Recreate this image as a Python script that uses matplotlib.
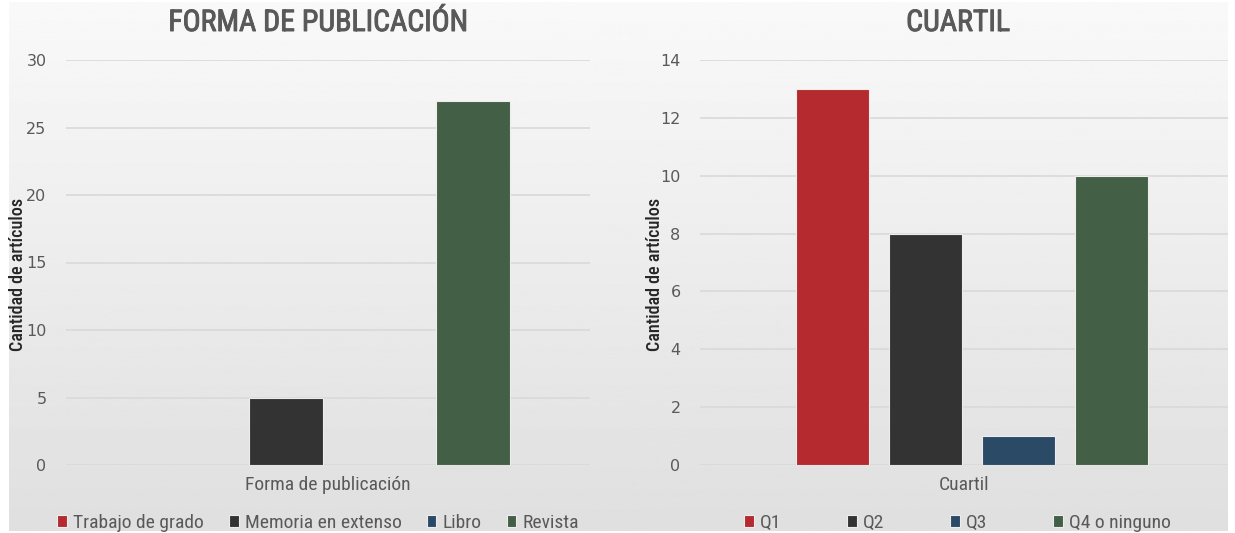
import matplotlib
matplotlib.use('Agg')
import matplotlib.pyplot as plt
import matplotlib.patheffects as pe
import numpy as np

plt.rcParams['font.family'] = ['Roboto Condensed', 'Roboto', 'DejaVu Sans']

# Forma de publicación
forma_labels = ['Trabajo de grado', 'Memoria en extenso', 'Libro', 'Revista']
forma_values = [0, 5, 0, 27]

# Cuartil
cuartil_labels = ['Q1', 'Q2', 'Q3', 'Q4 o ninguno']
cuartil_values = [13, 8, 1, 10]

colors = ['#B52A2F', '#333333', '#2A4A66', '#435F45']
TEXT = '#595959'
GRID = '#D9D9D9'

W, H = 1235, 533
fig = plt.figure(figsize=(W / 100, H / 100), dpi=100)
fig.patch.set_facecolor('white')

# gradient background behind both charts
bg = fig.add_axes([9 / W, 2 / H, (1228 - 9) / W, (531 - 2) / H])
grad = np.linspace(0.976, 0.875, 256).reshape(-1, 1)
bg.imshow(grad, cmap='gray', vmin=0, vmax=1, aspect='auto', extent=[0, 1, 0, 1])
bg.axis('off')
bg.set_zorder(0)


def draw_panel(rect, labels, values, ymax, ystep, title, xlabel, xlim,
               title_x, ylabel_x, legend_x, colspacing):
    ax = fig.add_axes(rect)
    ax.set_zorder(1)
    ax.patch.set_alpha(0)
    x = np.arange(len(values))
    bars = ax.bar(x, values, width=0.785, color=colors,
                  edgecolor='#EDEDED', linewidth=0.8, zorder=3)
    ax.set_ylim(0, ymax)
    ax.set_xlim(*xlim)
    yt = np.arange(0, ymax + 1, ystep)
    ax.set_yticks(yt, labels=[str(v) for v in yt], fontfamily='DejaVu Sans',
                  fontsize=11.5, color=TEXT)
    ax.set_xticks([])
    ax.yaxis.grid(True, color=GRID, linewidth=1.2, zorder=0)
    for s in ax.spines.values():
        s.set_visible(False)
    ax.tick_params(axis='y', length=0, pad=14)
    ax.set_xlabel(xlabel, fontsize=14, color=TEXT, labelpad=8)
    fig.text(title_x / W, 1 - 23 / H, title, fontsize=21.5, fontweight='normal',
             color=TEXT, ha='center', va='center',
             path_effects=[pe.withStroke(linewidth=0.7, foreground=TEXT)])
    fig.text(ylabel_x / W, 1 - 274 / H, 'Cantidad de artículos', fontsize=13,
             fontweight='medium', color='#262626', rotation=90,
             ha='center', va='center')
    ax.legend(bars, labels, loc='center', bbox_to_anchor=(legend_x, -0.143),
              ncol=4, frameon=False, fontsize=14, labelcolor=TEXT,
              handlelength=0.5, handleheight=0.5, handletextpad=0.3,
              columnspacing=colspacing, borderaxespad=0)
    return ax


# pixel frame of each plot area: left, right, top (max tick), bottom (zero)
draw_panel([66 / W, 1 - 465 / H, (590 - 66) / W, (465 - 60) / H],
           forma_labels, forma_values, 30, 5,
           'FORMA DE PUBLICACIÓN', 'Forma de publicación', (-1.353, 4.25),
           318, 18, 0.481, 1.3)

draw_panel([700 / W, 1 - 465 / H, (1228 - 700) / W, (465 - 60) / H],
           cuartil_labels, cuartil_values, 14, 2,
           'CUARTIL', 'Cuartil', (-1.43, 4.25),
           958, 655, 0.487, 3.4)

plt.savefig('out.png', dpi=100, facecolor=fig.get_facecolor())
plt.close()
